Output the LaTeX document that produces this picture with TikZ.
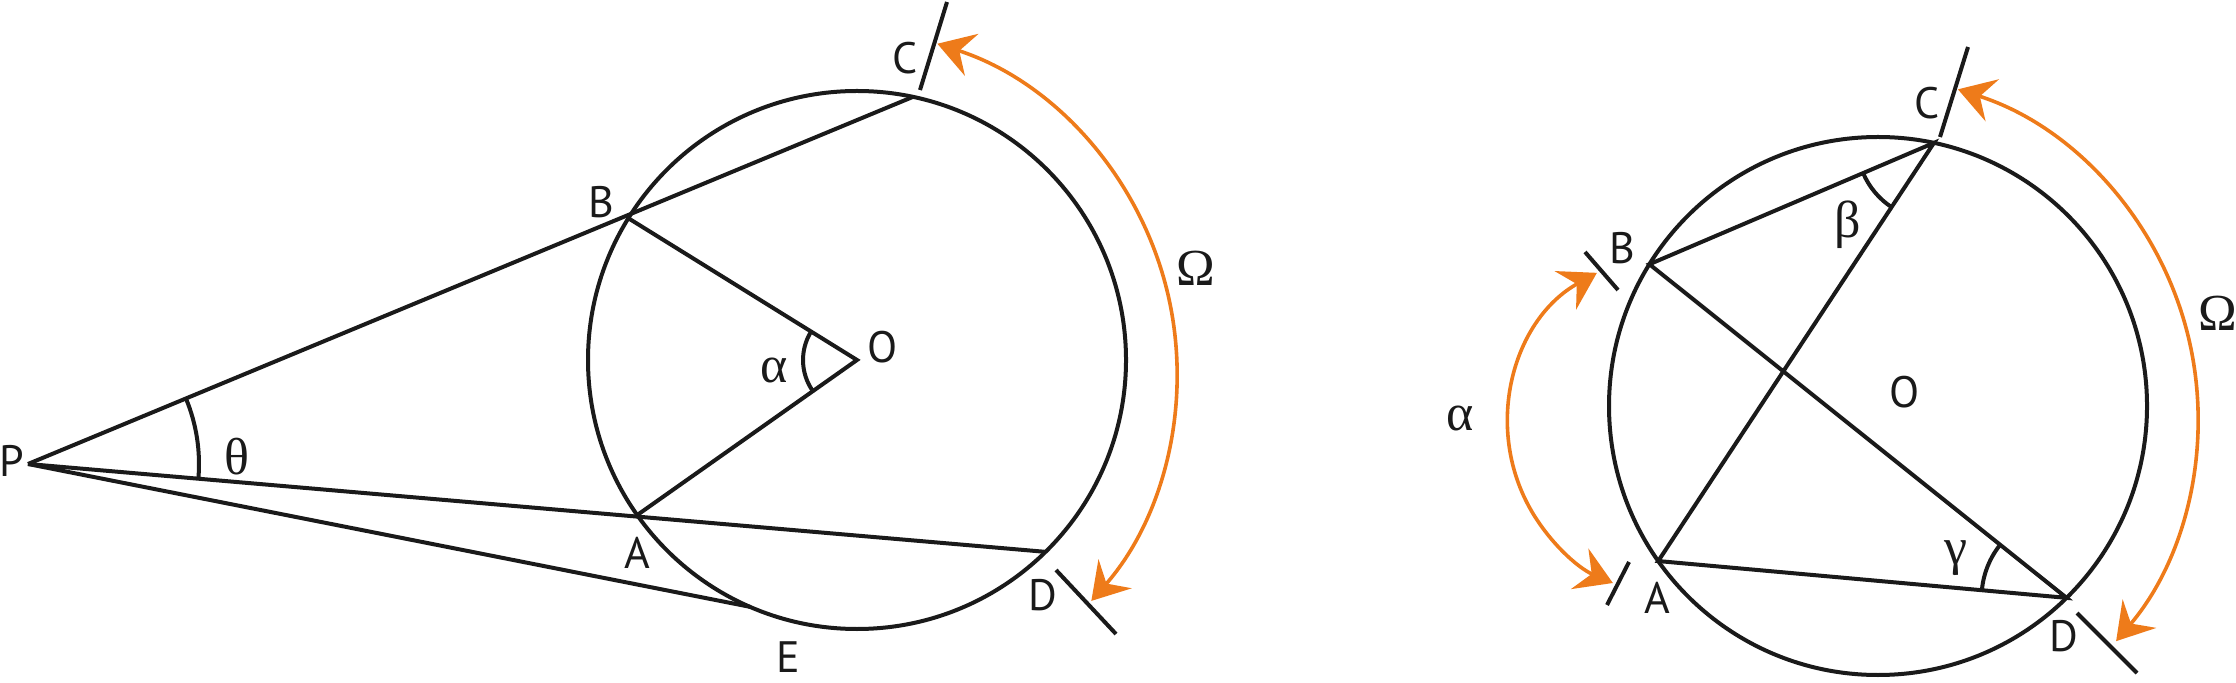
\documentclass[tikz,border=0pt]{standalone}
\usepackage{fontspec}
\setmainfont{PT Sans}
\newfontfamily\grk{Liberation Serif}
\usetikzlibrary{arrows.meta,calc}
\definecolor{ink}{HTML}{1A1A1A}
\definecolor{orng}{HTML}{EE7B1A}
\begin{document}
\begin{tikzpicture}[x=0.5pt,y=-0.5pt,
  geo/.style={draw=ink, line width=2pt},
  tickmark/.style={draw=ink, line width=2pt},
  omegaarc/.style={draw=orng, line width=1.8pt,
    {Stealth[length=18pt,width=22pt,inset=6.5pt]}-{Stealth[length=18pt,width=22pt,inset=6.5pt]}},
  lab/.style={inner sep=0pt, font=\fontsize{22}{24}\selectfont, text=ink},
  glab/.style={inner sep=0pt, font=\fontsize{26}{28}\selectfont\grk, text=ink}]
\useasboundingbox (0,0) rectangle (2236,683);

% ---------------- left figure ----------------
\coordinate (O1) at (857,360);
\coordinate (P) at (28,464);
\coordinate (B1) at ($(O1)+(211.8:269)$);
\coordinate (C1) at ($(O1)+(282:269)$);
\coordinate (A1) at ($(O1)+(144.8:269)$);
\coordinate (D1) at ($(O1)+(45.5:269)$);
\coordinate (E1) at ($(O1)+(113.4:269)$);
\coordinate (tC1a) at ($(O1)+(63,-270)$);
\coordinate (tC1b) at ($(O1)+(90,-358)$);
\coordinate (tD1a) at ($(O1)+(199,210)$);
\coordinate (tD1b) at ($(O1)+(259,274)$);

\draw[geo] (O1) circle[radius=269];
\draw[geo] (P) -- (C1);
\draw[geo] (P) -- (D1);
\draw[geo] (P) -- (E1);
\draw[geo] (B1) -- (O1) -- (A1);
\draw[geo] ($(P)+(-22.53:171)$) arc[start angle=-22.53, end angle=4.94, radius=171];
\draw[geo] ($(O1)+(144.8:54)$) arc[start angle=144.8, end angle=211.8, radius=54];
\draw[tickmark] (tC1a) -- (tC1b);
\draw[tickmark] (tD1a) -- (tD1b);
\draw[omegaarc] ($(O1)+(-26,13)+(-72.1:346)$) arc[start angle=-72.1, end angle=41.2, radius=346];

\node[lab] (lP) at (12,461) {P};
\node[lab] (lB1) at (601,202) {B};
\node[lab] (lC1) at (905,58) {C};
\node[lab] (lA1) at (637,553) {A};
\node[lab] (lD1) at (1043,595) {D};
\node[lab] (lE1) at (788,657) {E};
\node[lab] (lO1) at (883,347) {O};
\node[glab] (lal1) at (774,370) {α};
\node[glab] (lth) at (237,457) {θ};
\node[glab] (lom1) at (1196,268) {Ω};

% ---------------- right figure ----------------
\coordinate (O2) at (1878,406);
\coordinate (B2) at ($(O2)+(211.8:269)$);
\coordinate (C2) at ($(O2)+(282:269)$);
\coordinate (A2) at ($(O2)+(144.8:269)$);
\coordinate (D2) at ($(O2)+(45.5:269)$);
\coordinate (tC2a) at ($(O2)+(62,-269)$);
\coordinate (tC2b) at ($(O2)+(90,-359)$);
\coordinate (tD2a) at ($(O2)+(199,207)$);
\coordinate (tD2b) at ($(O2)+(259,267)$);
\coordinate (tB2a) at ($(O2)+(-293,-154)$);
\coordinate (tB2b) at ($(O2)+(-260,-116)$);
\coordinate (tA2a) at ($(O2)+(-249,156)$);
\coordinate (tA2b) at ($(O2)+(-271,199)$);

\draw[geo] (O2) circle[radius=269];
\draw[geo] (B2) -- (C2) -- (A2) -- (D2) -- cycle;
\draw[geo] ($(C2)+(123.4:77)$) arc[start angle=123.4, end angle=156.9, radius=77];
\draw[geo] ($(D2)+(185.15:85)$) arc[start angle=185.15, end angle=218.66, radius=85];
\draw[tickmark] (tC2a) -- (tC2b);
\draw[tickmark] (tD2a) -- (tD2b);
\draw[tickmark] (tB2a) -- (tB2b);
\draw[tickmark] (tA2a) -- (tA2b);
\draw[omegaarc] ($(O2)+(-25,12)+(-72.3:345)$) arc[start angle=-72.3, end angle=40.3, radius=345];
\draw[omegaarc] ($(O2)+(-197,18)+(240.9:173)$) arc[start angle=240.9, end angle=113.2, radius=173];

\node[lab] (lB2) at (1622,248) {B};
\node[lab] (lC2) at (1927,103) {C};
\node[lab] (lA2) at (1657,598) {A};
\node[lab] (lD2) at (2064,636) {D};
\node[lab] (lO2) at (1905,392) {O};
\node[glab] (lbe) at (1848,225) {β};
\node[glab] (lga) at (1956,558) {γ};
\node[glab] (lal2) at (1460,418) {α};
\node[glab] (lom2) at (2218,313) {Ω};
\end{tikzpicture}
\end{document}
